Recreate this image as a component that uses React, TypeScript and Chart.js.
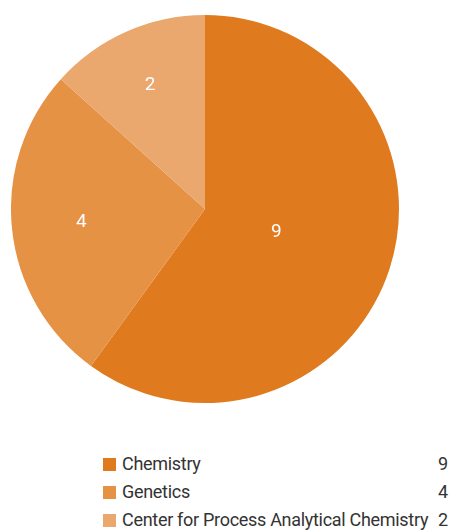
import React, { useEffect, useRef } from "react";
import { Chart, registerables } from "chart.js";

Chart.register(...registerables);

const categories = ["Chemistry", "Genetics", "Center for Process Analytical Chemistry"];
const counts = [9, 4, 2];
const colors = ["#DF7B1E", "#E69245", "#EAA86E"];

const FONT = "Roboto, 'Liberation Sans', sans-serif";

const sliceLabels = {
  id: "sliceLabels",
  afterDatasetsDraw(chart: any) {
    const ctx = chart.ctx;
    const meta = chart.getDatasetMeta(0);
    ctx.save();
    ctx.fillStyle = "#ffffff";
    ctx.font = `19px ${FONT}`;
    ctx.textAlign = "center";
    ctx.textBaseline = "middle";
    meta.data.forEach((arc: any, i: number) => {
      const { x, y, startAngle, endAngle, outerRadius } = arc.getProps(
        ["x", "y", "startAngle", "endAngle", "outerRadius"],
        true
      );
      const mid = (startAngle + endAngle) / 2;
      const h = (endAngle - startAngle) / 2;
      const r = outerRadius * ((2 / 3) * Math.sin(h) / h + 0.05);
      ctx.fillText(String(chart.data.datasets[0].data[i]), x + Math.cos(mid) * r, y + Math.sin(mid) * r);
    });
    ctx.restore();
  },
};

export default function App() {
  const ref = useRef<HTMLCanvasElement>(null);
  useEffect(() => {
    if (!ref.current) return;
    const chart = new Chart(ref.current, {
      type: "pie",
      data: {
        labels: categories,
        datasets: [
          {
            data: counts,
            backgroundColor: colors,
            borderWidth: 0,
          },
        ],
      },
      options: {
        responsive: false,
        animation: false,
        devicePixelRatio: 1,
        layout: { padding: 0 },
        plugins: {
          legend: { display: false },
          tooltip: { enabled: false },
        },
      },
      plugins: [sliceLabels],
    });
    return () => chart.destroy();
  }, []);

  return (
    <div style={{ position: "absolute", left: 0, top: 0, width: 452, height: 532, background: "#fff" }}>
      <canvas
        ref={ref}
        width={388}
        height={388}
        style={{ position: "absolute", left: 11, top: 15, width: 388, height: 388 }}
      />
      {categories.map((c, i) => (
        <div
          key={c}
          style={{
            position: "absolute",
            left: 103,
            top: 450 + i * 28,
            width: 345,
            height: 28,
            display: "flex",
            alignItems: "center",
            fontFamily: FONT,
            fontSize: 18,
            letterSpacing: "-0.3px",
            lineHeight: "28px",
            color: "#333",
          }}
        >
          <span style={{ width: 13, height: 13, background: colors[i], flex: "none", marginRight: 6 }} />
          <span style={{ flex: 1, whiteSpace: "nowrap" }}>{c}</span>
          <span style={{ whiteSpace: "nowrap", marginLeft: 6, letterSpacing: 0 }}>{counts[i]}</span>
        </div>
      ))}
    </div>
  );
}
